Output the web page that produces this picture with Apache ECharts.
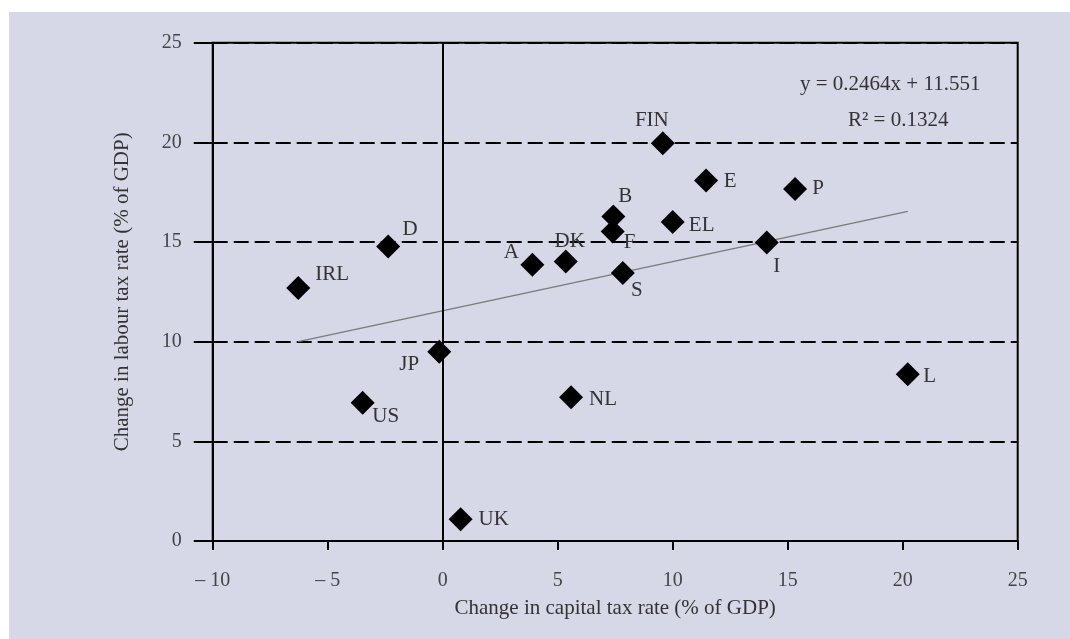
<!DOCTYPE html>
<html>
<head>
<meta charset="utf-8">
<script src="https://cdn.jsdelivr.net/npm/echarts@6/dist/echarts.min.js"></script>
<style>
  html, body { margin: 0; padding: 0; background: #ffffff; }
  #panel { position: absolute; left: 9px; top: 12px; width: 1061px; height: 627px; background: #d6d7e7; }
  #chart { position: absolute; left: 0; top: 0; width: 1070px; height: 639px; }
</style>
</head>
<body>
<div id="panel"></div>
<div id="chart"></div>
<script>
// Data
const countries = ['IRL', 'D', 'JP', 'US', 'UK', 'NL', 'A', 'DK', 'B', 'F', 'S', 'FIN', 'E', 'P', 'EL', 'I', 'L'];
const capitalTaxChange = [-6.28, -2.37, -0.15, -3.48, 0.78, 5.58, 3.90, 5.35, 7.42, 7.39, 7.83, 9.57, 11.45, 15.32, 10.00, 14.09, 20.22];
const labourTaxChange = [12.69, 14.77, 9.50, 6.94, 1.09, 7.21, 13.86, 14.02, 16.28, 15.53, 13.44, 19.96, 18.09, 17.66, 16.00, 14.97, 8.37];
const trendSlope = 0.2464;
const trendIntercept = 11.551;
const rSquared = 0.1324;
const xTicks = [-10, -5, 0, 5, 10, 15, 20, 25];
const yTicks = [0, 5, 10, 15, 20, 25];

// label placement: text centre offset from the marker centre, in px (style only)
const labelShift = {
  'IRL': [34, -14], 'D': [22, -17], 'JP': [-30, 13], 'US': [23, 14],
  'UK': [33, 0], 'NL': [32, 2], 'A': [-21, -12], 'DK': [4, -20],
  'B': [12, -20], 'F': [17, 11], 'S': [14, 17], 'FIN': [-11, -23],
  'E': [24, 1], 'P': [23, -1], 'EL': [29, 3], 'I': [10, 24], 'L': [22, 2]
};
const SYM = 24;

const points = countries.map((c, i) => ({
  name: c,
  value: [capitalTaxChange[i], labourTaxChange[i]],
  label: { position: [SYM / 2 + labelShift[c][0], SYM / 2 + labelShift[c][1]], align: 'center', verticalAlign: 'middle' }
}));

const xMin = Math.min(...capitalTaxChange);
const xMax = Math.max(...capitalTaxChange);
const trendData = [[xMin, trendSlope * xMin + trendIntercept], [xMax, trendSlope * xMax + trendIntercept]];

const serif = '"Liberation Serif", "DejaVu Serif", serif';
const chart = echarts.init(document.getElementById('chart'), null, { renderer: 'canvas' });
chart.setOption({
  backgroundColor: 'transparent',
  animation: false,
  textStyle: { fontFamily: serif },
  grid: { left: 212.7, right: 52.3, top: 42.7, bottom: 98, show: true, borderColor: '#000', borderWidth: 2, backgroundColor: 'transparent' },
  xAxis: {
    type: 'value', min: xTicks[0], max: xTicks[xTicks.length - 1], interval: 5,
    name: 'Change in capital tax rate (% of GDP)',
    nameLocation: 'middle', nameGap: 57,
    nameTextStyle: { fontFamily: serif, fontSize: 21, color: '#333' },
    axisLine: { show: true, onZero: false, lineStyle: { color: '#000', width: 2 } },
    axisTick: { show: true, length: 9, lineStyle: { color: '#000', width: 2 } },
    axisLabel: {
      margin: 30, fontFamily: serif, fontSize: 20, color: '#444',
      formatter: v => (v < 0 ? '\u2013 ' + Math.abs(v) : String(v))
    },
    splitLine: { show: false }
  },
  yAxis: {
    type: 'value', min: yTicks[0], max: yTicks[yTicks.length - 1], interval: 5,
    name: 'Change in labour tax rate (% of GDP)',
    nameLocation: 'middle', nameGap: 80, nameRotate: 90,
    nameTextStyle: { fontFamily: serif, fontSize: 21, color: '#333' },
    axisLine: { show: true, onZero: false, lineStyle: { color: '#000', width: 2 } },
    axisTick: { show: true, length: 19, lineStyle: { color: '#000', width: 2 } },
    axisLabel: { margin: 31, fontFamily: serif, fontSize: 20, color: '#444' },
    splitLine: { show: true, lineStyle: { color: '#000', width: 2, type: [15, 6] } }
  },
  series: [
    {
      type: 'line',
      data: trendData,
      symbol: 'none',
      lineStyle: { color: '#7a7a7a', width: 1.2 },
      z: 3,
      silent: true
    },
    {
      type: 'scatter',
      data: points,
      symbol: 'diamond',
      symbolSize: SYM,
      itemStyle: { color: '#000', opacity: 1 },
      z: 5,
      label: {
        show: true,
        formatter: p => p.name,
        fontFamily: serif, fontSize: 21, color: '#333'
      },
      markLine: {
        silent: true,
        symbol: 'none',
        label: { show: false },
        lineStyle: { color: '#000', width: 2, type: 'solid', opacity: 1 },
        data: [{ xAxis: 0 }]
      }
    }
  ],
  graphic: [
    {
      type: 'text', left: 800, top: 74, z: 10,
      style: { text: 'y = ' + trendSlope + 'x + ' + trendIntercept, fontFamily: serif, fontSize: 21, fill: '#333' }
    },
    {
      type: 'text', left: 848, top: 110, z: 10,
      style: { text: 'R\u00B2 = ' + rSquared, fontFamily: serif, fontSize: 21, fill: '#333' }
    }
  ]
});
</script>
</body>
</html>
